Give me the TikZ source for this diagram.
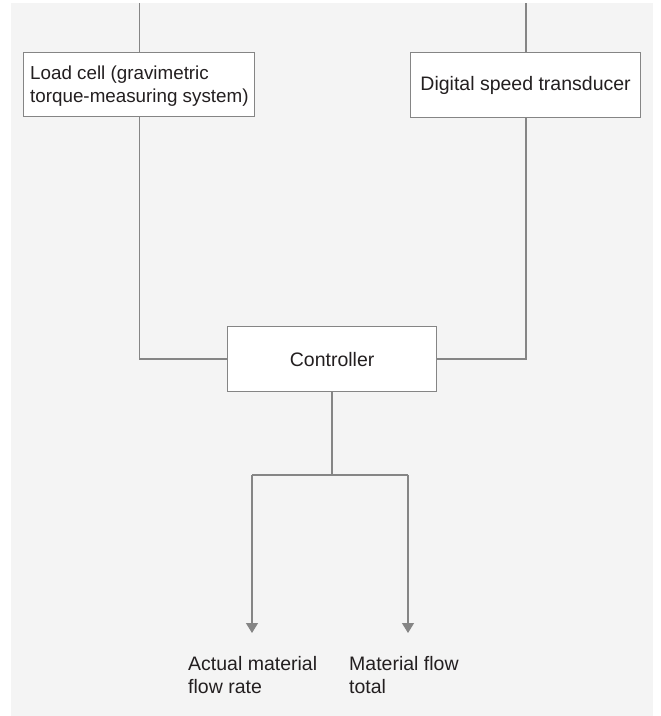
\documentclass[tikz,border=0pt]{standalone}
\usepackage{fontspec}
\setmainfont{Liberation Sans}
\usetikzlibrary{arrows.meta}
\definecolor{panel}{HTML}{F4F4F4}
\definecolor{wire}{HTML}{858585}
\definecolor{ink}{HTML}{231F20}
\tikzset{
  every node/.style={font=\fontsize{19.5}{23}\selectfont, text=ink},
  block/.style={draw=wire, line width=1.2pt, fill=white, inner sep=0pt, anchor=north west},
  link/.style={draw=wire, line width=1.3pt},
  flow/.style={link, -{Triangle[length=10pt,width=12pt]}},
  caption/.style={align=left, anchor=north west, inner sep=0pt}
}
\begin{document}
\begin{tikzpicture}[x=1pt,y=-1pt]
  \useasboundingbox (0,0) rectangle (661,716);
  \fill[panel] (11,3) rectangle (653,716);

  % sensors
  \node[block, minimum width=231pt, minimum height=64pt] (load) at (23,52) {};
  \node[caption, font=\fontsize{18.8}{23}\selectfont] (loadtext) at (30,65.5) {Load cell (gravimetric\\torque-measuring system)};
  \node[block, minimum width=230pt, minimum height=65pt] (speed) at (410,52) {};
  \node at (speed.center) {Digital speed transducer};

  % controller
  \node[block, minimum width=209pt, minimum height=65pt] (ctrl) at (227,326) {};
  \node at (ctrl.center) {Controller};

  % incoming feeds from above
  \coordinate (inL) at (139.5,3);
  \coordinate (inR) at (526,3);
  \draw[link] (inL) -- (inL |- load.north);
  \draw[link] (inR) -- (inR |- speed.north);

  % sensor signals into the controller
  \draw[link] (inL |- load.south) |- (ctrl.west);
  \draw[link] (inR |- speed.south) |- (ctrl.east);

  % outputs
  \coordinate (split) at (332,475);
  \coordinate (brL) at (252,475);
  \coordinate (brR) at (408,475);
  \coordinate (outL) at (252,633);
  \coordinate (outR) at (408,633);
  \draw[link] (ctrl.south -| split) -- (split);
  \draw[link] (brL) -- (brR);
  \draw[flow] (brL) -- (outL);
  \draw[flow] (brR) -- (outR);

  \node[caption] (rate) at (188,656) {Actual material\\flow rate};
  \node[caption] (total) at (349,656) {Material flow\\total};
\end{tikzpicture}
\end{document}
